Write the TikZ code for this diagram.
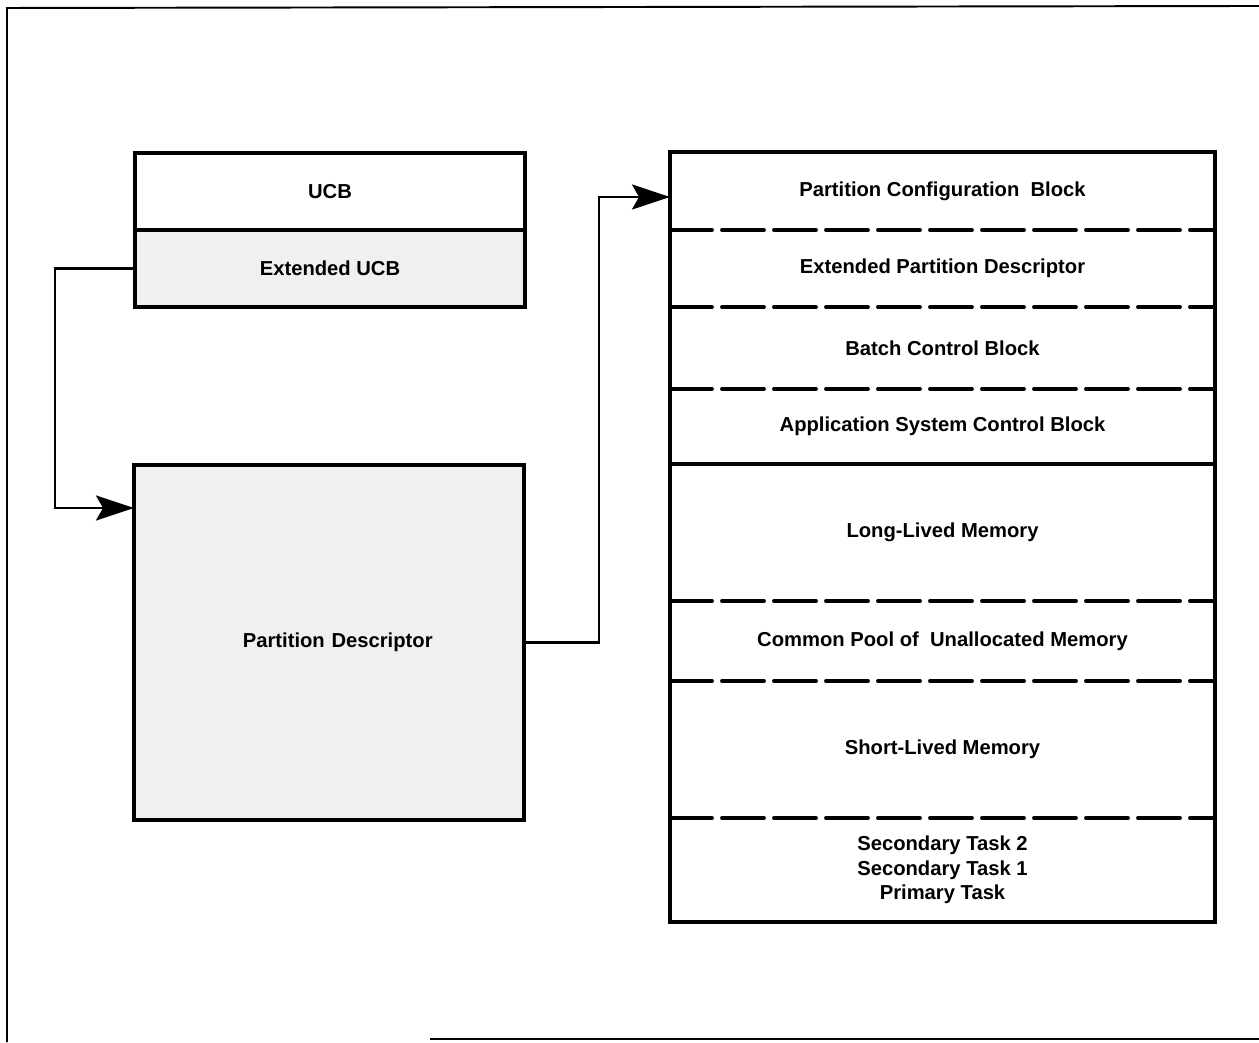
\documentclass[tikz,border=0pt]{standalone}
\usepackage{fontspec}
\setmainfont{Liberation Sans}
\usetikzlibrary{arrows.meta,positioning}
\newcommand{\labelfont}{\fontsize{11.5}{14}\selectfont\bfseries}
\tikzstyle{block} = [draw, line width=2.6pt, rectangle, outer sep=0pt,
    minimum width=7.8cm, minimum height=1.54cm, font=\labelfont]
\tikzstyle{shaded} = [fill=black!6]
\tikzstyle{cell} = [rectangle, inner sep=0pt, outer sep=0pt,
    minimum width=10.9cm, align=center, font=\labelfont]
\tikzstyle{wall} = [line width=2.6pt]
\tikzstyle{divider} = [line width=2.2pt, line cap=round, dash pattern=on 0.84cm off 0.2cm]
\tikzstyle{link} = [line width=1.3pt]

\begin{document}
\begin{tikzpicture}[auto, node distance=0pt, >={Stealth[length=0.76cm,width=0.5cm,inset=0.14cm]}]
    \useasboundingbox (0,0) rectangle (25.18,20.84);
    \draw [line width=1.1pt] (0.14,0) -- (0.14,20.68) -- (25.18,20.72);
    \draw [line width=1.1pt] (8.6,0.06) -- (25.18,0.06);

    \node [block] (ucb) at (6.6,17.01) {UCB};
    \node [block, shaded, below=of ucb] (eucb) {Extended UCB};
    \node [block, shaded, minimum height=7.1cm, text width=7.4cm, align=center] (pd) at (6.58,7.99) {\hspace*{0.35cm}Partition Descriptor};

    \node [cell, minimum height=1.56cm] (pcb) at (18.85,17.02) {Partition Configuration\ \ Block};
    \node [cell, minimum height=1.54cm, below=of pcb] (epd) {Extended Partition Descriptor};
    \node [cell, minimum height=1.64cm, below=of epd] (bcb) {Batch Control Block};
    \node [cell, minimum height=1.5cm, below=of bcb] (ascb) {Application System Control Block};
    \node [cell, minimum height=2.74cm, below=of ascb] (llm) {Long-Lived Memory};
    \node [cell, minimum height=1.6cm, below=of llm] (pool) {Common Pool of\ \ Unallocated Memory};
    \node [cell, minimum height=2.74cm, below=of pool] (slm) {Short-Lived Memory};
    \node [cell, minimum height=2.08cm, below=of slm] (tasks) {Secondary Task 2\\Secondary Task 1\\Primary Task};

    \foreach \n in {pcb,epd,bcb,llm,pool,slm}
        \draw [divider] (\n.south west) -- (\n.south east);
    \draw [wall] (ascb.south west) -- (ascb.south east);
    \draw [wall] (pcb.north west) rectangle (tasks.south east);

    \coordinate (pdin) at ([yshift=-0.86cm]pd.north west);
    \coordinate (pcbin) at ([yshift=-0.12cm]pcb.west);
    \draw [->,link] (eucb.west) -- ++(-1.6,0) |- (pdin);
    \draw [->,link] (pd.east) -- ++(1.5,0) |- (pcbin);
\end{tikzpicture}
\end{document}
